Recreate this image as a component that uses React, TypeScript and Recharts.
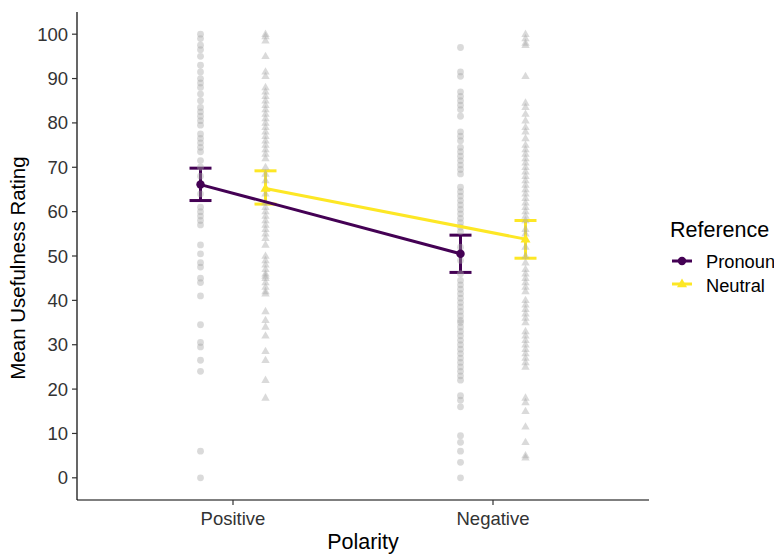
import { ComposedChart, Scatter, XAxis, YAxis, ErrorBar, Label } from "recharts";

const FONT = '"Liberation Sans", Arial, Helvetica, sans-serif';
const PURPLE = "#440154";
const YELLOW = "#FDE725";

const categories = ["Positive", "Negative"];
const yTicks = [0, 10, 20, 30, 40, 50, 60, 70, 80, 90, 100];

// raw ratings (grey points)
const pronounPositive = [
  100, 99, 97.5, 96.5, 95, 93, 91.5, 90, 89, 88, 86.5, 85, 83.5, 82.5, 81.5, 80.5, 79.5,
  77.5, 76.5, 75.5, 74.5, 73.5, 71.5, 70, 68, 66, 64, 61, 60, 59, 58, 57, 52.5, 50.5,
  48.5, 47.5, 45, 44, 41, 34.5, 30.5, 29.5, 26.5, 24, 6, 0,
];
const neutralPositive = [
  100, 99.5, 98.5, 95, 91.5, 90.5, 88, 87, 86, 85, 84, 83, 82, 81, 80, 79, 78, 77, 76,
  75, 74, 73, 72, 70, 68.5, 67, 64, 62, 61, 60, 59, 58, 57, 56, 55, 54, 52.5, 50, 49,
  48, 47, 46, 45.5, 45, 44, 43, 42, 41.5, 37.5, 35.5, 34, 32, 28.5, 26.5, 22, 18,
];
const pronounNegative = [
  97, 91.5, 90.5, 87, 86, 85, 84, 83, 81.5, 78, 77, 76, 74.5, 73.5, 72.5, 71.5, 70.5,
  69.5, 68.5, 65.5, 64.5, 63.5, 62.5, 61.5, 60.5, 59.5, 58.5, 57.5, 56.5, 55.5, 52, 49,
  46, 44.5, 43.5, 42.5, 41.5, 40.5, 39.5, 38.5, 37.5, 36.5, 35.5, 35, 34, 33, 32, 31,
  30, 29, 28, 27, 26, 25, 24, 23, 22, 18.5, 17.5, 16, 9.5, 8, 6, 3.5, 0,
];
const neutralNegative = [
  100, 99, 98, 97.5, 90.5, 84.5, 83.5, 82, 80.5, 79, 78, 76.5, 75, 74, 73, 72, 71, 70,
  69, 68, 67, 66, 65, 64, 63, 62, 61, 60, 59, 58, 56, 55, 52, 50, 48.5, 47, 46, 45, 44,
  43, 42, 40, 39, 38, 37, 36, 35, 33, 32, 31, 30, 29, 28, 27, 26, 25, 18, 17, 15, 11.5,
  8, 5, 4.5,
];

// means and CI bounds per category
const pronounMean = [66.1, 50.5];
const pronounLow = [62.5, 46.3];
const pronounHigh = [69.8, 54.7];
const neutralMean = [65.2, 53.8];
const neutralLow = [61.7, 49.5];
const neutralHigh = [69.2, 58.0];

const DODGE = 0.125;

const toPoints = (vals: number[], pos: number) => vals.map((v) => ({ x: pos, y: v }));

const pronounRaw = [
  ...toPoints(pronounPositive, 1 - DODGE),
  ...toPoints(pronounNegative, 2 - DODGE),
];
const neutralRaw = [
  ...toPoints(neutralPositive, 1 + DODGE),
  ...toPoints(neutralNegative, 2 + DODGE),
];

const pronounSummary = categories.map((_, i) => ({
  x: i + 1 - DODGE,
  y: pronounMean[i],
  err: [pronounMean[i] - pronounLow[i], pronounHigh[i] - pronounMean[i]],
}));
const neutralSummary = categories.map((_, i) => ({
  x: i + 1 + DODGE,
  y: neutralMean[i],
  err: [neutralMean[i] - neutralLow[i], neutralHigh[i] - neutralMean[i]],
}));

const triPath = (cx: number, cy: number, s: number) =>
  `M${cx},${cy - s * 1.1}L${cx - s},${cy + s * 0.65}L${cx + s},${cy + s * 0.65}Z`;

const GreyDot = (p: any) => (
  <circle cx={p.cx} cy={p.cy} r={3.4} fill="#a6a6a6" fillOpacity={0.42} />
);
const GreyTri = (p: any) => <path d={triPath(p.cx, p.cy, 4.2)} fill="#a6a6a6" fillOpacity={0.42} />;
const PurpleDot = (p: any) => <circle cx={p.cx} cy={p.cy} r={4.2} fill={PURPLE} />;
const YellowTri = (p: any) => <path d={triPath(p.cx, p.cy, 5)} fill={YELLOW} />;

const tickStyle = { fill: "#333", fontSize: 18.5, fontFamily: FONT };

export default function App() {
  return (
    <div
      style={{
        position: "absolute",
        left: 0,
        top: 0,
        width: 774,
        height: 557,
        overflow: "hidden",
        background: "#fff",
        fontFamily: FONT,
      }}
    >
      <ComposedChart
        width={774}
        height={557}
        margin={{ top: 12, right: 125, bottom: 0, left: 0 }}
      >
        <XAxis
          type="number"
          dataKey="x"
          domain={[0.4, 2.6]}
          ticks={[1, 2]}
          tickFormatter={(v: number) => categories[v - 1]}
          allowDataOverflow
          height={57}
          axisLine={{ stroke: "#000", strokeWidth: 1.2 }}
          tickLine={{ stroke: "#333", strokeWidth: 1.2 }}
          tickSize={5}
          tickMargin={7}
          tick={tickStyle}
        >
          <Label
            content={(props: any) => {
              const vb = props.viewBox || { x: 77, y: 500, width: 572 };
              return (
                <text
                  x={vb.x + vb.width / 2}
                  y={vb.y + 49}
                  textAnchor="middle"
                  fontSize={21.5}
                  fontFamily={FONT}
                  fill="#000"
                >
                  Polarity
                </text>
              );
            }}
          />
        </XAxis>
        <YAxis
          type="number"
          dataKey="y"
          domain={[-5, 105]}
          ticks={yTicks}
          allowDataOverflow
          width={77}
          axisLine={{ stroke: "#000", strokeWidth: 1.2 }}
          tickLine={{ stroke: "#333", strokeWidth: 1.2 }}
          tickSize={5}
          tickMargin={4}
          tick={tickStyle}
        >
          <Label
            content={(props: any) => {
              const vb = props.viewBox || { x: 0, y: 12, height: 488 };
              const cy = vb.y + vb.height / 2 + 12;
              return (
                <text
                  x={25}
                  y={cy}
                  transform={`rotate(-90, 25, ${cy})`}
                  textAnchor="middle"
                  fontSize={20.5}
                  fontFamily={FONT}
                  fill="#000"
                >
                  Mean Usefulness Rating
                </text>
              );
            }}
          />
        </YAxis>

        <Scatter data={pronounRaw} shape={GreyDot} isAnimationActive={false} />
        <Scatter data={neutralRaw} shape={GreyTri} isAnimationActive={false} />

        <Scatter
          data={pronounSummary}
          shape={PurpleDot}
          line={{ stroke: PURPLE, strokeWidth: 3 }}
          isAnimationActive={false}
        >
          <ErrorBar
            dataKey="err"
            direction="y"
            width={11}
            stroke={PURPLE}
            strokeWidth={3}
            isAnimationActive={false}
          />
        </Scatter>
        <Scatter
          data={neutralSummary}
          shape={YellowTri}
          line={{ stroke: YELLOW, strokeWidth: 3 }}
          isAnimationActive={false}
        >
          <ErrorBar
            dataKey="err"
            direction="y"
            width={11}
            stroke={YELLOW}
            strokeWidth={3}
            isAnimationActive={false}
          />
        </Scatter>
      </ComposedChart>

      <svg
        width={124}
        height={110}
        style={{ position: "absolute", left: 660, top: 200 }}
      >
        <text x={10} y={37} fontSize={21.5} fontFamily={FONT} fill="#000">
          Reference
        </text>
        <line x1={12} x2={32} y1={61} y2={61} stroke={PURPLE} strokeWidth={3} />
        <circle cx={22} cy={61} r={4.2} fill={PURPLE} />
        <text x={46} y={68} fontSize={18.3} fontFamily={FONT} fill="#000">
          Pronoun
        </text>
        <line x1={12} x2={32} y1={84} y2={84} stroke={YELLOW} strokeWidth={3} />
        <path d={triPath(22, 84, 5)} fill={YELLOW} />
        <text x={46} y={92} fontSize={18.3} fontFamily={FONT} fill="#000">
          Neutral
        </text>
      </svg>
    </div>
  );
}
